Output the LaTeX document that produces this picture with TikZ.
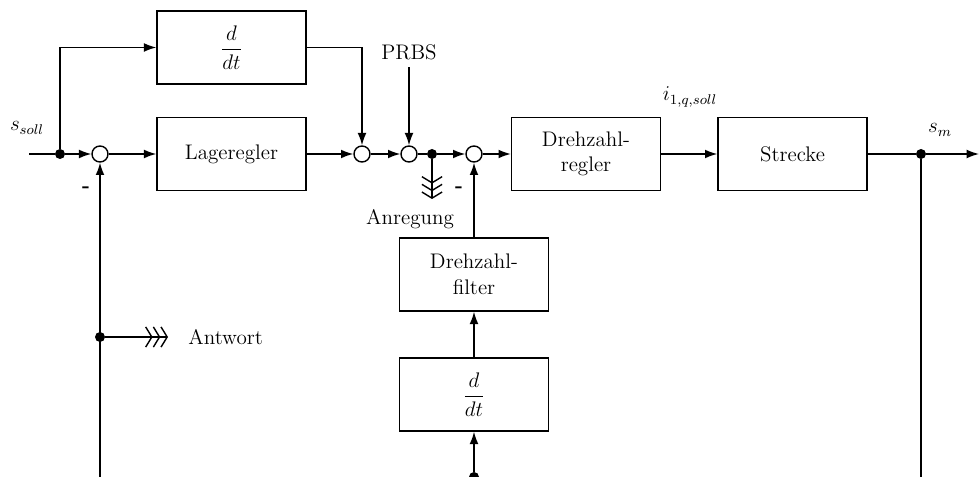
\documentclass[12pt,tikz,border=0pt]{standalone}
\usepackage{amsmath}
\usetikzlibrary{positioning, arrows.meta, calc}
\tikzset{
  block/.style ={draw, thick, minimum width=2.98cm, minimum height=1.46cm,
                 align=center, inner sep=2pt},
  sumpt/.style ={draw, thick, circle, fill=white, minimum size=0.32cm,
                 inner sep=0pt},
  branch/.style={circle, fill, minimum size=0.2cm, inner sep=0pt},
  wire/.style  ={thick},
  sig/.style   ={-{Latex[length=7pt,width=5pt]}, thick},
  meas/.style  ={-{Straight Barb[length=3.5pt,width=11.5pt]
                   Straight Barb[length=3.5pt,width=11.5pt]
                   Straight Barb[length=3.5pt,width=11.5pt]}, thick},
}
\begin{document}
\begin{tikzpicture}
\useasboundingbox (0,0) rectangle (19.58,-9.54);

% blocks
\node[block] (ddtA)    at (4.63,-0.95) {$\dfrac{d}{dt}$};
\node[block] (lage)    at (4.63,-3.08) {Lageregler};
\node[block] (dreg)    at (11.72,-3.08) {Drehzahl-\\regler};
\node[block] (strecke) at (15.85,-3.08) {Strecke};
\node[block] (dfilt)   at (9.48,-5.49) {Drehzahl-\\filter};
\node[block] (ddtB)    at (9.48,-7.89) {$\dfrac{d}{dt}$};

% summing points and branches
\node[sumpt]  (s1)  at (2.00,-3.08) {};
\node[sumpt]  (s2)  at (7.24,-3.08) {};
\node[sumpt]  (s3)  at (8.18,-3.08) {};
\node[sumpt]  (s4)  at (9.48,-3.08) {};
\node[branch] (br)  at (1.20,-3.08) {};
\node[branch] (exc) at (8.64,-3.08) {};
\node[branch] (out) at (18.42,-3.08) {};
\node[branch] (ant) at (2.00,-6.74) {};
\node[branch] (bd)  at (9.48,-9.54) {};

\coordinate (in)     at (0.58,-3.08);
\coordinate (end)    at (19.58,-3.08);
\coordinate (fbA)    at (2.00,-9.54);
\coordinate (fbB)    at (18.42,-9.54);
\coordinate (excOut) at (8.64,-3.98);
\coordinate (antOut) at (3.36,-6.74);

% labels
\node (ssoll) at (0.54,-2.56) {$s_{soll}$};
\node (prbs)  at (8.18,-1.04) {PRBS};
\node (iq)    at (13.80,-1.94) {$i_{1,q,soll}$};
\node (sm)    at (18.80,-2.60) {$s_m$};
\node (anr)   at (8.20,-4.38) {Anregung};
\node[anchor=west] (antw) at (3.62,-6.74) {Antwort};
\node (minA)  at (1.72,-3.80) {\textbf{-}};
\node (minB)  at (9.18,-3.80) {\textbf{-}};

% forward path
\draw[wire] (in) -- (br);
\draw[sig]  (br) -- (s1);
\draw[sig]  (s1) -- (lage);
\draw[sig]  (lage) -- (s2);
\draw[sig]  (s2) -- (s3);
\draw[wire] (s3) -- (exc);
\draw[sig]  (exc) -- (s4);
\draw[sig]  (s4) -- (dreg);
\draw[sig]  (dreg) -- (strecke);
\draw[wire] (strecke) -- (out);
\draw[sig]  (out) -- (end);

% feedforward
\draw[sig] (br) |- (ddtA);
\draw[sig] (ddtA) -| (s2);
\draw[sig] (prbs) -- (s3);

% feedback
\draw[sig]  (fbA) -- (s1);
\draw[wire] (out) -- (fbB);
\draw[sig]  (bd) -- (ddtB);
\draw[sig]  (ddtB) -- (dfilt);
\draw[sig]  (dfilt) -- (s4);

% measurement taps
\draw[meas] (exc) -- (excOut);
\draw[meas] (ant) -- (antOut);

\end{tikzpicture}
\end{document}
